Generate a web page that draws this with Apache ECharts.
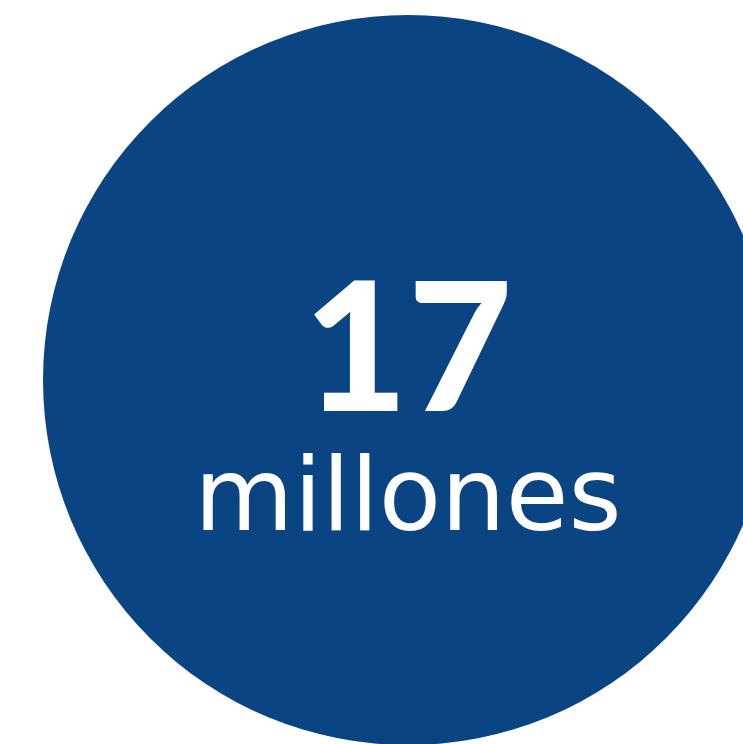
<!DOCTYPE html>
<html><head><meta charset="utf-8">
<style>html,body{margin:0;padding:0;background:#fff}#c{width:743px;height:744px}</style>
<script src="https://cdn.jsdelivr.net/npm/echarts@6/dist/echarts.min.js"></script>
</head><body><div id="c"></div>
<script>
const categories = ['millones'];
const values = [17];
const chart = echarts.init(document.getElementById('c'), null, {renderer:'canvas'});
chart.setOption({
  animation:false,
  series:[{
    type:'pie',
    center:[408,380],
    radius:[0,365],
    silent:true,
    data: categories.map((c,i)=>({name:c,value:values[i]})),
    itemStyle:{color:'#0B4482'},
    label:{
      show:true, position:'center',
      formatter: p => '{a|' + p.value + '}\n{b|' + p.name + '}',
      rich:{
        a:{fontFamily:'Lato', fontWeight:900, fontSize:180, color:'#fff', lineHeight:246},
        b:{fontFamily:'DejaVu Sans', fontWeight:'normal', fontSize:102, color:'#fff', lineHeight:54}
      }
    },
    labelLine:{show:false}
  }]
});
</script></body></html>
